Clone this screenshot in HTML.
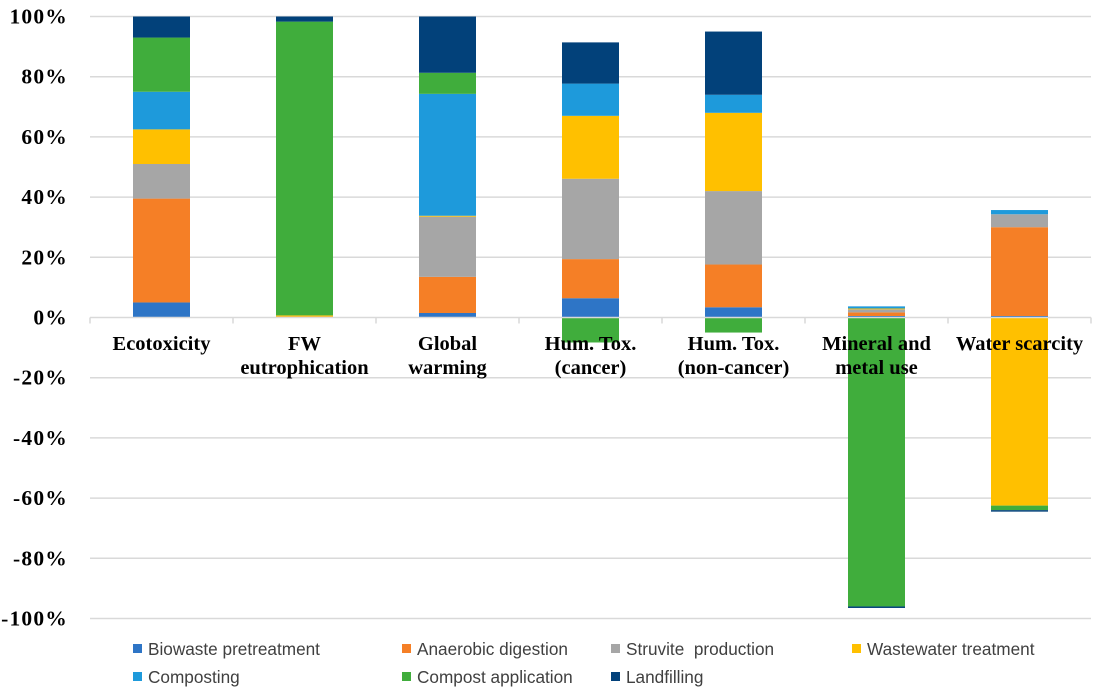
<!DOCTYPE html>
<html><head><meta charset="utf-8"><style>
body{margin:0;background:#fff;width:1099px;height:690px;overflow:hidden}
svg text{font-family:"Liberation Serif",serif}
.leg{font-family:"Liberation Sans",sans-serif;font-size:17.2px;fill:#404040;white-space:pre}
</style></head><body>
<svg id="chart" width="1099" height="690" xmlns="http://www.w3.org/2000/svg">
<g id="grid"></g><g id="bars"></g><g id="axis"></g><g id="legend"></g>
</svg>
<script>
const categories=[["Ecotoxicity"],["FW","eutrophication"],["Global","warming"],["Hum. Tox.","(cancer)"],["Hum. Tox.","(non-cancer)"],["Mineral and","metal use"],["Water scarcity"]];
const seriesNames=["Biowaste pretreatment","Anaerobic digestion","Struvite  production","Wastewater treatment","Composting","Compost application","Landfilling"];
const colors=["#2E75C6","#F57F26","#A6A6A6","#FFC000","#1E9ADB","#40AD3C","#02417A"];
const biowaste=[5,0,1.5,6.4,3.4,0.5,0.5];
const anaerobic=[34.5,0.3,12,13,14.2,1.2,29.5];
const struvite=[11.5,0,20,26.7,24.4,1,4.3];
const wastewater=[11.5,0.4,0.3,20.9,26,0.3,-62.5];
const composting=[12.5,0,40.5,10.7,6,0.7,1.4];
const compostApp=[18,97.6,7,-8.3,-5,-96,-1.5];
const landfilling=[7,1.7,18.7,13.7,21,-0.5,-0.5];
const series=[biowaste,anaerobic,struvite,wastewater,composting,compostApp,landfilling];
const yTicks=[100,80,60,40,20,0,-20,-40,-60,-80,-100];
const tickLabels=["100%","80%","60%","40%","20%","0%","-20%","-40%","-60%","-80%","-100%"];
const NS="http://www.w3.org/2000/svg";
const left=90,right=1091,catW=(right-left)/categories.length,barW=57;
function y(v){return 317.5-v*3.01;}
function xc(i){return left+catW*(i+0.5);}
function mk(tag,attrs,parent){const e=document.createElementNS(NS,tag);for(const k in attrs)e.setAttribute(k,attrs[k]);parent.appendChild(e);return e;}
const grid=document.getElementById('grid'),bars=document.getElementById('bars'),axis=document.getElementById('axis'),legend=document.getElementById('legend');
yTicks.forEach((t,i)=>{
 if(t!==0){const l=mk('line',{x1:left,x2:right,y1:y(t),y2:y(t),stroke:'#d9d9d9','stroke-width':1.5},grid);
 
 }
 const tx=mk('text',{x:68,y:y(t)+7,'text-anchor':'end','font-size':'21.5','font-weight':'bold','letter-spacing':'1.2',fill:'#000'},axis);
 tx.textContent=tickLabels[i];
 
 
});
categories.forEach((c,i)=>{
 let pos=0,neg=0;
 series.forEach((s,k)=>{
  const v=s[i];if(!v)return;
  let y0,y1;
  if(v>0){y0=pos;pos+=v;y1=pos;}else{y0=neg;neg+=v;y1=neg;}
  const r=mk('rect',{x:xc(i)-barW/2,y:Math.min(y(y0),y(y1)),width:barW,height:Math.abs(y(y1)-y(y0)),fill:colors[k]},bars);
  
  
 });
});
const ax=mk('line',{x1:left,x2:right,y1:y(0),y2:y(0),stroke:'#d9d9d9','stroke-width':1.5},axis);


for(let i=0;i<=categories.length;i++){
 const tk=mk('line',{x1:left+catW*i,x2:left+catW*i,y1:y(0),y2:y(0)+6,stroke:'#d9d9d9','stroke-width':1.5},axis);
 
 
}
categories.forEach((c,i)=>{
 c.forEach((line,j)=>{
  const tx=mk('text',{x:xc(i),y:350+j*24,'text-anchor':'middle','font-size':'20.5','font-weight':'bold',fill:'#000'},axis);
  tx.textContent=line;
  
  
 });
});
const legX=[133,402,611,852],legY=[649,677];
seriesNames.forEach((n,k)=>{
 const row=k<4?0:1,col=k<4?k:k-4;
 const g=mk('g',{},legend);
 
 
 mk('rect',{x:legX[col],y:legY[row]-5,width:9,height:9,fill:colors[k]},g);
 const t=mk('text',{x:legX[col]+15,y:legY[row]+6,class:'leg'},g);
 t.textContent=n;
});
</script>
</body></html>
